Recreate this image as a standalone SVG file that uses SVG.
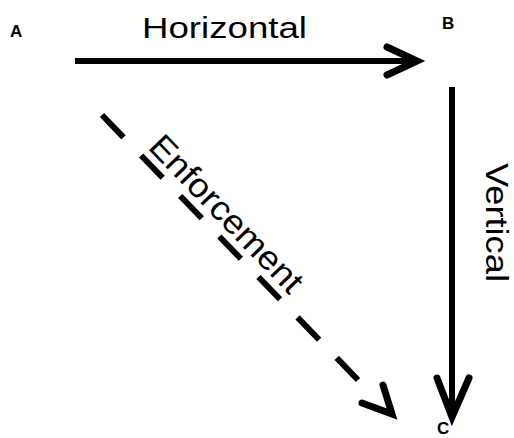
<svg xmlns="http://www.w3.org/2000/svg" width="514" height="438" viewBox="0 0 514 438">
<style>
.node{font-family:"Liberation Sans",Arial,sans-serif;font-weight:bold;font-size:17px;fill:#000}
.lbl{font-family:"Liberation Sans",Arial,sans-serif;fill:#000}
.line{stroke:#000;stroke-width:6;fill:none}
.head{stroke:#000;stroke-width:7;fill:none;stroke-linejoin:miter;stroke-linecap:round}
</style>
<rect width="514" height="438" fill="#fff"/>
<g id="node-A"><text class="node" x="10" y="37">A</text></g>
<g id="node-B"><text class="node" x="442" y="29">B</text></g>
<g id="node-C"><text class="node" x="437" y="434">C</text></g>
<g id="connectors">
  <g id="edge-horizontal">
    <line class="line" x1="75" y1="61" x2="414" y2="61"/>
    <polyline class="head" points="387,47 417,61 387,75"/>
    <text class="lbl" x="142" y="38" font-size="30" textLength="165" lengthAdjust="spacingAndGlyphs">Horizontal</text>
  </g>
  <g id="edge-vertical">
    <line class="line" x1="452" y1="87" x2="452" y2="414"/>
    <polyline class="head" points="437,378 452,417 469,378"/>
    <text class="lbl" transform="translate(486,163) rotate(90)" font-size="31" textLength="119" lengthAdjust="spacingAndGlyphs">Vertical</text>
  </g>
  <g id="edge-enforcement">
    <path class="line" d="M102,115 L358,380" stroke-dasharray="31 25.3"/>
    <polyline class="head" points="362,403 392,414 383,385"/>
    <text class="lbl" transform="translate(147,148) rotate(46)" font-size="34" textLength="205" lengthAdjust="spacingAndGlyphs">Enforcement</text>
  </g>
</g>
</svg>
